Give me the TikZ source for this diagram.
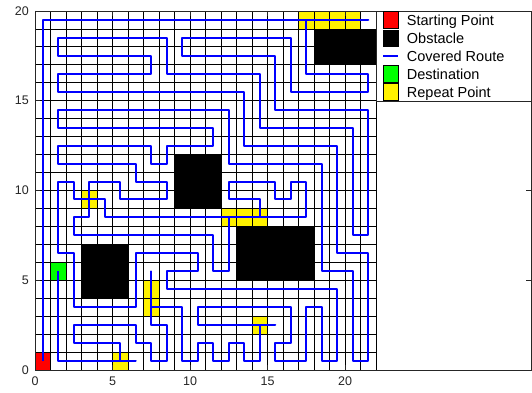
\documentclass[tikz,border=0pt]{standalone}
\usepackage{fontspec}
\setmainfont{Liberation Sans}
\begin{document}
\begin{tikzpicture}[x=1pt,y=1pt,
  gridline/.style={black, line width=0.9pt},
  route/.style={blue, line width=2pt, line join=round},
  axisline/.style={black!85, line width=0.9pt},
  ticklabel/.style={font=\fontsize{12.5}{14}\selectfont, text=black!85, inner sep=0pt},
  legtext/.style={font=\fontsize{14.5}{17}\selectfont, anchor=base west, inner sep=0pt},
  legsq/.style={draw=black, line width=0.6pt}]
\useasboundingbox (0,0) rectangle (532,392);
\fill[white] (0,0) rectangle (532,392);
% data area
\begin{scope}[shift={(35pt,22pt)}, x=15.5pt, y=17.95pt]
  \fill[red] (0,0) rectangle (1,1);
  \fill[green] (1,5) rectangle (2,6);
  \fill[yellow] (17,19) rectangle (21,20);
  \fill[yellow] (3,9) rectangle (4,10);
  \fill[yellow] (12,8) rectangle (15,9);
  \fill[yellow] (7,3) rectangle (8,5);
  \fill[yellow] (5,0) rectangle (6,1);
  \fill[yellow] (14,2) rectangle (15,3);
  \fill[black] (18,17) rectangle (22,19);
  \fill[black] (9,9) rectangle (12,12);
  \fill[black] (3,4) rectangle (6,7);
  \fill[black] (13,5) rectangle (18,8);
  \foreach \i in {0,...,22} \draw[gridline] (\i,0) -- (\i,20);
  \foreach \j in {0,...,20} \draw[gridline] (0,\j) -- (22,\j);
  \begin{scope}[shift={(0.5,0.5)}]
  \draw[route] (0,0) -- (0,19) -- (21,19) -- (17,19) -- (17,16) -- (21,16) -- (21,15) -- (16,15) -- (16,18) -- (9,18) -- (9,17) -- (15,17) -- (15,14) -- (21,14) -- (21,7) -- (20,7) -- (20,13) -- (14,13) -- (14,16) -- (8,16) -- (8,18) -- (1,18) -- (1,17) -- (7,17) -- (7,16) -- (1,16) -- (1,15) -- (13,15) -- (13,12) -- (19,12) -- (19,6) -- (21,6) -- (21,0) -- (20,0) -- (20,5) -- (18,5) -- (18,11) -- (12,11) -- (12,14) -- (1,14) -- (1,13) -- (11,13) -- (11,12) -- (8,12) -- (8,11) -- (7,11) -- (7,12) -- (1,12) -- (1,11) -- (6,11) -- (6,10) -- (8,10) -- (8,9) -- (5,9) -- (5,10) -- (3,10) -- (3,8) -- (2,8) -- (2,7) -- (11,7) -- (11,5) -- (12,5) -- (12,8) -- (17,8) -- (17,10) -- (16,10) -- (16,9) -- (15,9) -- (15,10) -- (12,10) -- (12,9) -- (14,9) -- (14,8) -- (4,8) -- (4,9) -- (2,9) -- (2,10) -- (1,10) -- (1,6) -- (2,6) -- (2,3) -- (6,3) -- (6,6) -- (10,6) -- (10,5) -- (8,5) -- (8,4) -- (19,4) -- (19,0) -- (18,0) -- (18,3) -- (17,3) -- (17,0) -- (15,0) -- (15,1) -- (16,1) -- (16,3) -- (10,3) -- (10,2) -- (15,2) -- (14,2) -- (14,0) -- (13,0) -- (13,1) -- (12,1) -- (12,0) -- (11,0) -- (11,1) -- (10,1) -- (10,0) -- (9,0) -- (9,3) -- (7,3) -- (7,5) -- (7,2) -- (8,2) -- (8,0) -- (7,0) -- (7,1) -- (6,1) -- (6,2) -- (2,2) -- (2,1) -- (5,1) -- (5,0) -- (6,0) -- (1,0) -- (1,5);
  \end{scope}
\end{scope}
% axes box and ticks
\draw[axisline] (35,22) rectangle (531,381);
\foreach \X in {0,5,10,15,20} {
  \draw[axisline] ({35+15.5*\X},22) -- ({35+15.5*\X},27);
  \draw[axisline] ({35+15.5*\X},381) -- ({35+15.5*\X},376);
  \node[ticklabel] (xl\X) at ({35+15.5*\X},11) {\X};
}
\foreach \Y in {0,5,10,15,20} {
  \draw[axisline] (35,{22+17.95*\Y}) -- (40,{22+17.95*\Y});
  \draw[axisline] (531,{22+17.95*\Y}) -- (526,{22+17.95*\Y});
  \node[ticklabel, anchor=east] (yl\Y) at (29,{22+17.95*\Y}) {\Y};
}
% legend
\draw[axisline, fill=white] (376,290.5) rectangle (531,381);
\draw[legsq, fill=red] (383.3,363.75) rectangle (398.3,380.25);
\draw[legsq, fill=black] (383.3,345.45) rectangle (398.3,361.95);
\draw[blue, line width=2pt] (383.3,336.3) -- (398.3,336.3);
\draw[legsq, fill=green] (383.3,309.85) rectangle (398.3,326.35);
\draw[legsq, fill=yellow] (383.3,292.05) rectangle (398.3,308.55);
\node[legtext] (l1) at (406.7,366.7) {Starting Point};
\node[legtext] (l2) at (406.7,348.4) {Obstacle};
\node[legtext] (l3) at (406.7,330.7) {Covered Route};
\node[legtext] (l4) at (406.7,312.8) {Destination};
\node[legtext] (l5) at (406.7,295.0) {Repeat Point};
\end{tikzpicture}
\end{document}
